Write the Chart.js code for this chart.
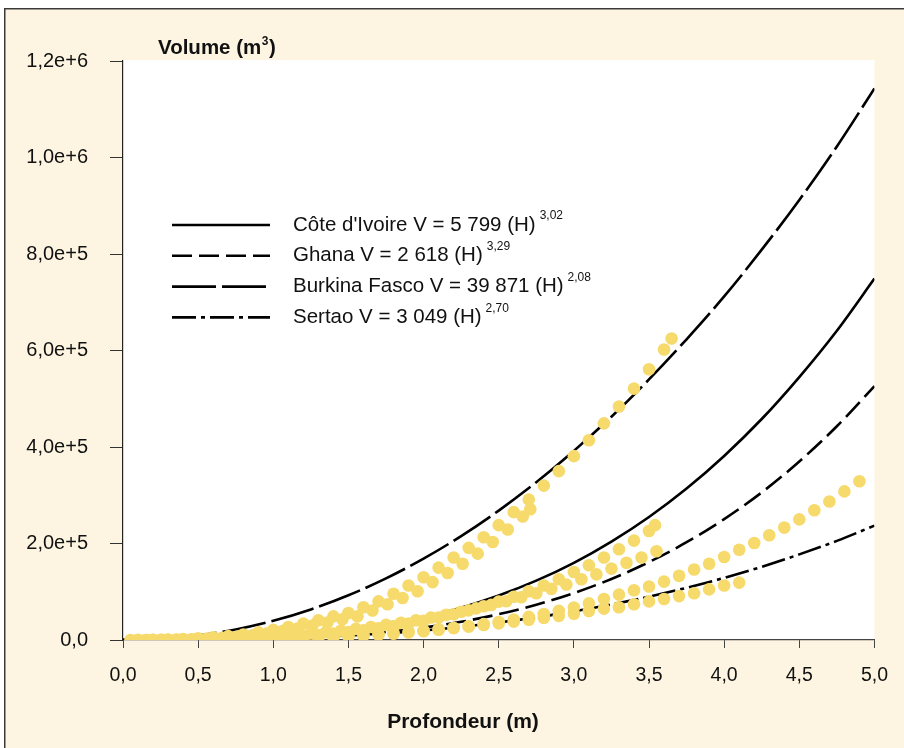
<!DOCTYPE html>
<html>
<head>
<meta charset="utf-8">
<script src="https://cdn.jsdelivr.net/npm/chart.js@4.4.1/dist/chart.umd.min.js"></script>
<style>
  html, body { margin: 0; padding: 0; background: #fff; }
  canvas { display: block; }
</style>
</head>
<body>
<canvas id="myChart" width="904" height="748"></canvas>
<script>
// fitted curves (H in m, V in m3)
const hCurve = [0, 0.25, 0.5, 0.75, 1, 1.25, 1.5, 1.75, 2, 2.25, 2.5, 2.75, 3, 3.25, 3.5, 3.75, 4, 4.25, 4.5, 4.75, 5];
const vCoteIvoire = [0, 90, 715, 2430, 5800, 11400, 19700, 31400, 47000, 67100, 92300, 123000, 160000, 204000, 255000, 314000, 381500, 458000, 545000, 641000, 749000];
const vGhana = [0, 27, 268, 1020, 2620, 5460, 9940, 16500, 25600, 37700, 53400, 73000, 97200, 126500, 161500, 202600, 250500, 305800, 370000, 443000, 526000];
const vBurkina = [0, 2230, 9430, 21900, 39900, 63400, 92700, 127700, 168600, 215400, 268200, 327000, 392000, 462800, 540000, 623300, 712000, 809000, 912000, 1023000, 1143000];
const vSertao = [0, 72, 469, 1400, 3050, 5570, 9110, 13800, 19800, 27200, 36200, 46800, 59200, 73500, 89700, 108200, 128700, 151700, 177500, 205500, 237000];

// measured points
const hA1 = [0.1, 0.2, 0.3, 0.4, 0.5, 0.6, 0.7, 0.8, 0.9, 1.0, 1.1, 1.2, 1.3, 1.4, 1.5, 1.6, 1.7, 1.8, 1.9, 2.0, 2.1, 2.2, 2.3, 2.4, 2.5, 2.6, 2.7, 2.8, 2.9, 3.0, 3.1, 3.2, 3.3, 3.4, 3.5, 3.6, 3.65];
const vA1 = [50, 300, 850, 1800, 3300, 5400, 8000, 11500, 15700, 21000, 27000, 34000, 41000, 49000, 56000, 68000, 80000, 96000, 113000, 130000, 150000, 171000, 191000, 213000, 238000, 265000, 291000, 320000, 350000, 381000, 414000, 449000, 484000, 521000, 561000, 602000, 625000];
const hA2 = [0.16, 0.26, 0.36, 0.46, 0.56, 0.66, 0.76, 0.86, 0.96, 1.06, 1.16, 1.26, 1.36, 1.46, 1.56, 1.66, 1.76, 1.86, 1.96, 2.06, 2.16, 2.26, 2.36, 2.46, 2.56, 2.66, 2.71];
const vA2 = [40, 260, 750, 1600, 2900, 4700, 7000, 10000, 13700, 18400, 23600, 30000, 36000, 43000, 49000, 61000, 74000, 87000, 101000, 120000, 139000, 158000, 179000, 203000, 229000, 256000, 271000];
const hB1 = [0.1, 0.2, 0.3, 0.4, 0.5, 0.6, 0.7, 0.8, 0.9, 1.0, 1.1, 1.2, 1.3, 1.4, 1.5, 1.6, 1.7, 1.8, 1.9, 2.0, 2.1, 2.2, 2.3, 2.4, 2.5, 2.6, 2.7, 2.8, 2.9, 3.0, 3.1, 3.2, 3.3, 3.4, 3.5, 3.54];
const vB1 = [0, 30, 110, 270, 540, 950, 1540, 2320, 3350, 4640, 6240, 8170, 10500, 13200, 16300, 19900, 24000, 28700, 33900, 39800, 46300, 53500, 61400, 70000, 79500, 89700, 101000, 113000, 126000, 141000, 155000, 171000, 188000, 206000, 226000, 238000];
const hB2 = [0.05, 0.15, 0.25, 0.35, 0.45, 0.55, 0.65, 0.75, 0.85, 0.95, 1.05, 1.15, 1.25, 1.35, 1.45, 1.55, 1.65, 1.75, 1.85, 1.95, 2.05, 2.15, 2.25, 2.35, 2.45, 2.55, 2.65, 2.75, 2.85, 2.95, 3.05, 3.15, 3.25, 3.35, 3.45, 3.55];
const vB2 = [0, 70, 240, 550, 1030, 1710, 2600, 3730, 5100, 6740, 8670, 10900, 13400, 16300, 19500, 23000, 27000, 31300, 35900, 41000, 46500, 52400, 58700, 65500, 72700, 80400, 88500, 97000, 106000, 115000, 126000, 136000, 148000, 160000, 171000, 184000];
const hC = [0.1, 0.2, 0.3, 0.4, 0.5, 0.6, 0.7, 0.8, 0.9, 1.0, 1.1, 1.2, 1.3, 1.4, 1.5, 1.6, 1.7, 1.8, 1.9, 2.0, 2.1, 2.2, 2.3, 2.4, 2.5, 2.6, 2.7, 2.8, 2.9, 3.0, 3.1, 3.2, 3.3, 3.4, 3.5, 3.6, 3.7, 3.8, 3.9, 4.0, 4.1, 4.2, 4.3, 4.4, 4.5, 4.6, 4.7, 4.8, 4.9];
const vC = [0, 10, 40, 100, 210, 370, 610, 940, 1380, 1940, 2640, 3500, 4530, 5750, 7190, 8850, 10800, 13000, 15400, 18200, 21300, 24800, 28600, 32800, 37400, 42500, 48000, 54000, 60400, 67400, 76000, 85000, 94000, 103000, 111000, 121000, 133000, 146000, 158000, 172000, 187000, 201000, 217000, 233000, 250000, 269000, 287000, 308000, 329000];
const hD = [0.1, 0.2, 0.3, 0.4, 0.5, 0.6, 0.7, 0.8, 0.9, 1.0, 1.1, 1.2, 1.3, 1.4, 1.5, 1.6, 1.7, 1.8, 1.9, 2.0, 2.1, 2.2, 2.3, 2.4, 2.5, 2.6, 2.7, 2.8, 2.9, 3.0, 3.1, 3.2, 3.3, 3.4, 3.5, 3.6, 3.7, 3.8, 3.9, 4.0, 4.1];
const vD = [10, 60, 170, 350, 610, 960, 1410, 1980, 2660, 3460, 4400, 5470, 6680, 8050, 9570, 11300, 13100, 15100, 17300, 19700, 22300, 25000, 28000, 31100, 34500, 38100, 41900, 45900, 50100, 54500, 60000, 65000, 68000, 74000, 80000, 85000, 91000, 97000, 105000, 113000, 119000];

const xTicks = [0, 0.5, 1, 1.5, 2, 2.5, 3, 3.5, 4, 4.5, 5];
const legendNames = ["Côte d'Ivoire V = 5 799 (H)", "Ghana V = 2 618 (H)", "Burkina Fasco V = 39 871 (H)", "Sertao V = 3 049 (H)"];
const legendExp = ["3,02", "3,29", "2,08", "2,70"];
const legendDash = [[], [20, 7], [44, 6], [24, 5, 4, 5]];

const FONT = "'Liberation Sans', Arial, Helvetica, sans-serif";
const CREAM = "#fdf5e2";
const DOT = "#f6da6c";

const pts = (h, v) => h.map((x, i) => ({ x: x, y: v[i] }));

const dotSet = (h, v) => ({
  type: "scatter",
  data: pts(h, v),
  backgroundColor: DOT,
  borderWidth: 0,
  pointRadius: 6.3,
  pointHoverRadius: 6.3,
});

const curveSet = (v, dash) => ({
  type: "line",
  data: pts(hCurve, v),
  borderColor: "#000",
  borderWidth: 2.6,
  borderDash: dash,
  pointRadius: 0,
  fill: false,
  cubicInterpolationMode: "monotone",
});

const decor = {
  id: "decor",
  beforeDraw(chart) {
    const { ctx, chartArea: a, width, height } = chart;
    ctx.save();
    ctx.fillStyle = "#fff";
    ctx.fillRect(0, 0, width, height);
    ctx.fillStyle = CREAM;
    ctx.fillRect(4, 8, width, height);
    ctx.strokeStyle = "#3a3a3a";
    ctx.lineWidth = 1.5;
    ctx.strokeRect(4.75, 8.75, width + 20, height + 20);
    ctx.fillStyle = "#fff";
    ctx.fillRect(a.left, a.top - 1, a.right - a.left, a.bottom - a.top + 1);
    ctx.restore();
  },
  afterDraw(chart) {
    const { ctx, chartArea: a } = chart;
    ctx.save();
    ctx.fillStyle = "#111";
    ctx.textBaseline = "middle";

    // y title with superscript
    ctx.font = "bold 20.5px " + FONT;
    ctx.textAlign = "left";
    let tx = a.left + 35;
    ctx.fillText("Volume (m", tx, 48);
    tx += ctx.measureText("Volume (m").width;
    ctx.font = "bold 12px " + FONT;
    ctx.fillText("3", tx + 0.5, 42);
    tx += ctx.measureText("3").width + 1;
    ctx.font = "bold 20.5px " + FONT;
    ctx.fillText(")", tx, 48);

    // x title
    ctx.textAlign = "center";
    ctx.font = "bold 21px " + FONT;
    ctx.fillText("Profondeur (m)", 463, 722);

    // legend
    ctx.textAlign = "left";
    legendNames.forEach((name, i) => {
      const y = a.top + 164 + i * 30.8;
      ctx.beginPath();
      ctx.setLineDash(legendDash[i]);
      ctx.lineWidth = 2.6;
      ctx.strokeStyle = "#000";
      ctx.moveTo(a.left + 49, y);
      ctx.lineTo(a.left + 147, y);
      ctx.stroke();
      ctx.setLineDash([]);
      ctx.font = "20.5px " + FONT;
      ctx.fillText(name, a.left + 170, y);
      const w = ctx.measureText(name).width;
      ctx.font = "12px " + FONT;
      ctx.fillText(legendExp[i], a.left + 170 + w + 4, y - 9);
    });
    ctx.restore();
  },
};

const chartElement = document.getElementById("myChart");
const myChart = new Chart(chartElement, {
  data: {
    datasets: [
      dotSet(hA1, vA1),
      dotSet(hA2, vA2),
      dotSet(hB1, vB1),
      dotSet(hB2, vB2),
      dotSet(hC, vC),
      dotSet(hD, vD),
      curveSet(vCoteIvoire, []),
      curveSet(vGhana, [20, 7]),
      curveSet(vBurkina, [44, 6]),
      curveSet(vSertao, [24, 5, 4, 5]),
    ],
  },
  options: {
    responsive: false,
    animation: false,
    devicePixelRatio: 1,
    layout: { padding: { left: 0, top: 61, right: 28, bottom: 0 } },
    plugins: { legend: { display: false }, tooltip: { enabled: false } },
    scales: {
      x: {
        type: "linear",
        min: 0,
        max: 5,
        afterBuildTicks: (s) => { s.ticks = xTicks.map((v) => ({ value: v })); },
        afterFit: (s) => { s.height = 108; },
        border: { color: "#444", width: 1.2 },
        grid: { drawOnChartArea: false, drawTicks: true, tickLength: 8, color: "#444" },
        ticks: {
          padding: 16,
          color: "#111",
          font: { family: FONT, size: 19.5 },
          callback: (v) => v.toFixed(1).replace(".", ","),
        },
      },
      y: {
        type: "linear",
        min: 0,
        max: 1200000,
        afterFit: (s) => { s.width = 123; },
        border: { color: "#222", width: 1.2 },
        grid: { drawOnChartArea: false, drawTicks: true, tickLength: 13, color: "#333" },
        ticks: {
          stepSize: 200000,
          padding: 22,
          color: "#111",
          font: { family: FONT, size: 20 },
          callback: (v) => (v === 0 ? "0,0" : v.toExponential(1).replace(".", ",")),
        },
      },
    },
  },
  plugins: [decor],
});
</script>
</body>
</html>
